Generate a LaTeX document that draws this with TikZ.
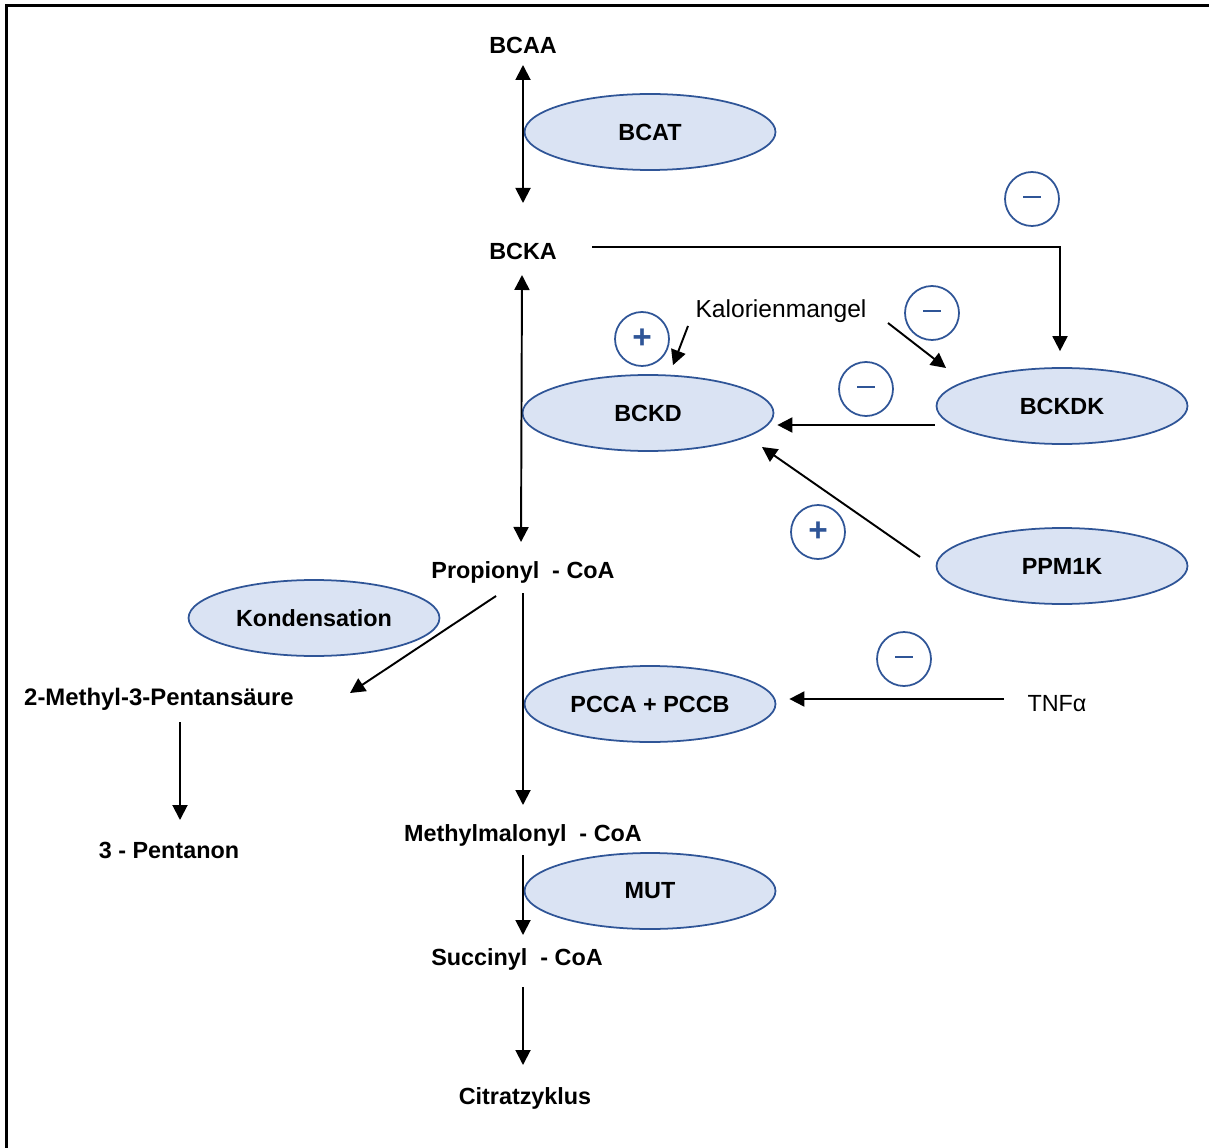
\documentclass[tikz,border=0pt]{standalone}
\usepackage{fontspec}
\setmainfont{Liberation Sans}
\usetikzlibrary{shapes,arrows.meta,calc}
\usepackage{xcolor}
\definecolor{enzfill}{HTML}{DAE3F3}
\definecolor{enzline}{HTML}{2F5597}
\newcommand{\hemmung}{\rule[0.32ex]{0.36cm}{0.7pt}}
\newcommand{\aktivierung}{{\fontsize{19}{19}\selectfont\bfseries +}}

\begin{document}
\begin{tikzpicture}[
  x=0.02cm, y=-0.02cm,
  font=\fontsize{13.3}{15}\selectfont,
  metab/.style={font=\fontsize{13.3}{15}\selectfont\bfseries, inner sep=0pt},
  label/.style={font=\fontsize{13.3}{15}\selectfont, inner sep=0pt},
  enzyme/.style={ellipse, draw=enzline, fill=enzfill, line width=1pt, inner sep=0pt,
    minimum width=5.02cm, minimum height=1.52cm, font=\fontsize{13.3}{15}\selectfont\bfseries},
  sign/.style={circle, draw=enzline, line width=1pt, minimum size=1.08cm, inner sep=0pt, text=enzline},
  arrow/.style={-{Triangle[length=0.3cm,width=0.3cm]}, line width=1.1pt},
  twoway/.style={{Triangle[length=0.3cm,width=0.3cm]}-{Triangle[length=0.3cm,width=0.3cm]}, line width=1.1pt}
]
  \useasboundingbox (0,0) rectangle (1209,1148);
  \draw[line width=1.7pt] (6.5,1148) -- (6.5,6) -- (1209,6);

  % metabolites
  \node[metab] (bcaa) at (523,45) {BCAA};
  \node[metab] (bcka) at (523,251) {BCKA};
  \node[metab] (prop) at (523,572) {Propionyl\ \ - CoA};
  \node[metab, font=\fontsize{13.6}{15}\selectfont\bfseries] (methylp) at (159,699) {2-Methyl-3-Pentansäure};
  \node[metab] (pentanon) at (169,850) {3 - Pentanon};
  \node[metab] (methmal) at (523,835) {Methylmalonyl\ \ - CoA};
  \node[metab] (succ) at (517,959) {Succinyl\ \ - CoA};
  \node[metab] (citrat) at (525,1098) {Citratzyklus};
  \node[label, font=\fontsize{14}{16}\selectfont] (kal) at (781,311) {Kalorienmangel};
  \node[label] (tnf) at (1057,704) {TNFα};

  % enzymes
  \node[enzyme] (bcat) at (650,132) {BCAT};
  \node[enzyme] (bckd) at (648,413) {BCKD};
  \node[enzyme] (bckdk) at (1062,406) {BCKDK};
  \node[enzyme] (ppm) at (1062,566) {PPM1K};
  \node[enzyme] (kond) at (314,618) {Kondensation};
  \node[enzyme] (pcc) at (650,704) {PCCA + PCCB};
  \node[enzyme] (mut) at (650,891) {MUT};

  % regulation signs
  \node[sign] (s1) at (1032,199) {\hemmung};
  \node[sign] (s2) at (932,313) {\hemmung};
  \node[sign] (s3) at (642,339) {\aktivierung};
  \node[sign] (s4) at (866,389) {\hemmung};
  \node[sign] (s5) at (818,532) {\aktivierung};
  \node[sign] (s6) at (904,659) {\hemmung};

  % connectors
  \draw[twoway] ($(bcaa)+(0,20)$) -- ($(bcka)+(0,-48)$);
  \draw[twoway] ($(bcka)+(-1,24)$) -- ($(prop)+(-2,-30)$);
  \draw[arrow] ($(bcka)+(69,-4)$) -| ($(bckdk.north)+(-2,-16)$);
  \draw[arrow] ($(kal)+(-93,15)$) -- ($(bckd.north)+(25,-9)$);
  \draw[arrow] ($(kal)+(107,12)$) -- ($(bckdk)+(-116,-38)$);
  \draw[arrow] ($(bckdk.west)+(-1,19)$) -- ($(bckd.east)+(3,12)$);
  \draw[arrow] ($(ppm)+(-142,-9)$) -- ($(bckd)+(114,34)$);
  \draw[arrow] ($(prop)+(0,21)$) -- ($(methmal)+(0,-30)$);
  \draw[arrow] ($(prop)+(-27,24)$) -- ($(methylp)+(191,-6)$);
  \draw[arrow] ($(methylp)+(21,23)$) -- ($(pentanon)+(11,-30)$);
  \draw[arrow] ($(tnf)+(-53,-5)$) -- ($(pcc.east)+(13,-5)$);
  \draw[arrow] ($(methmal)+(0,20)$) -- ($(succ)+(6,-24)$);
  \draw[arrow] ($(succ)+(6,28)$) -- ($(citrat)+(-2,-33)$);
\end{tikzpicture}
\end{document}
